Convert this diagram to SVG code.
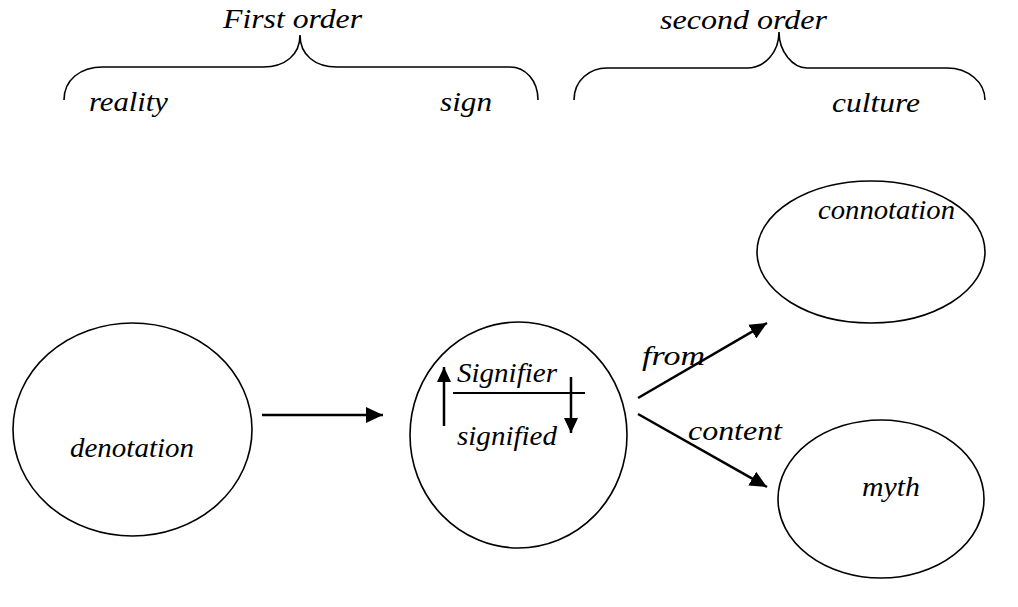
<svg xmlns="http://www.w3.org/2000/svg" width="1018" height="607" viewBox="0 0 1018 607">
<style>
text{font-family:"Liberation Serif","Times New Roman",serif;font-style:italic;font-size:28px;fill:#000}
.shape{fill:none;stroke:#000;stroke-width:1.6}
.conn{fill:none;stroke:#000;stroke-width:2.5}
</style>
<defs>
<marker id="ah" markerUnits="userSpaceOnUse" markerWidth="18" markerHeight="16" refX="17" refY="8" orient="auto">
<path d="M0,0 L17,8 L0,16 Z" fill="#000"/>
</marker>
<marker id="ahs" markerUnits="userSpaceOnUse" markerWidth="16" markerHeight="14" refX="15" refY="7" orient="auto">
<path d="M0,0 L15,7 L0,14 Z" fill="#000"/>
</marker>
</defs>
<g id="brace-first">
<path class="shape" d="M64,100 C64,80 80,67 103,67 L263,67 C285,67 300,55 300,35 C300,55 315,67 337,67 L510,67 C525,67 538,80 538,100"/>
<text x="223" y="28" textLength="139" lengthAdjust="spacingAndGlyphs">First order</text>
<text x="89" y="111" textLength="79" lengthAdjust="spacingAndGlyphs">reality</text>
<text x="440" y="111" textLength="52" lengthAdjust="spacingAndGlyphs">sign</text>
</g>
<g id="brace-second">
<path class="shape" d="M574,100 C574,80 590,68 607,68 L747,68 C765,68 779,52 779,32 C779,52 793,68 807,68 L947,68 C968,68 985,82 985,100"/>
<text x="660" y="29" textLength="167" lengthAdjust="spacingAndGlyphs">second order</text>
<text x="832" y="112" textLength="88" lengthAdjust="spacingAndGlyphs">culture</text>
</g>
<g id="denotation">
<ellipse class="shape" cx="132.5" cy="429.5" rx="119.5" ry="106.5"/>
<text x="70" y="457" textLength="124" lengthAdjust="spacingAndGlyphs">denotation</text>
</g>
<g id="sign">
<ellipse class="shape" cx="518.5" cy="435" rx="108.5" ry="113"/>
<text x="457" y="382" textLength="100" lengthAdjust="spacingAndGlyphs">Signifier</text>
<line x1="453" y1="393" x2="585" y2="393" stroke="#000" stroke-width="2"/>
<text x="457" y="445" textLength="100" lengthAdjust="spacingAndGlyphs">signified</text>
<line x1="444" y1="426" x2="444" y2="367" stroke="#000" stroke-width="2.5" marker-end="url(#ahs)"/>
<line x1="571" y1="377" x2="571" y2="433" stroke="#000" stroke-width="2.5" marker-end="url(#ahs)"/>
</g>
<g id="connotation">
<ellipse class="shape" cx="871" cy="252" rx="114" ry="71"/>
<text x="818" y="219" textLength="137" lengthAdjust="spacingAndGlyphs">connotation</text>
</g>
<g id="myth">
<ellipse class="shape" cx="881" cy="499" rx="103" ry="79"/>
<text x="862" y="496" textLength="58" lengthAdjust="spacingAndGlyphs">myth</text>
</g>
<g id="connectors">
<line class="conn" x1="638" y1="398" x2="767" y2="323" marker-end="url(#ah)"/>
<line class="conn" x1="638" y1="414" x2="767" y2="487" marker-end="url(#ah)"/>
<line class="conn" x1="262" y1="415" x2="383" y2="415" marker-end="url(#ah)"/>
<text x="642" y="365" textLength="63" lengthAdjust="spacingAndGlyphs">from</text>
<text x="688" y="440" textLength="94" lengthAdjust="spacingAndGlyphs">content</text>
</g>
</svg>
